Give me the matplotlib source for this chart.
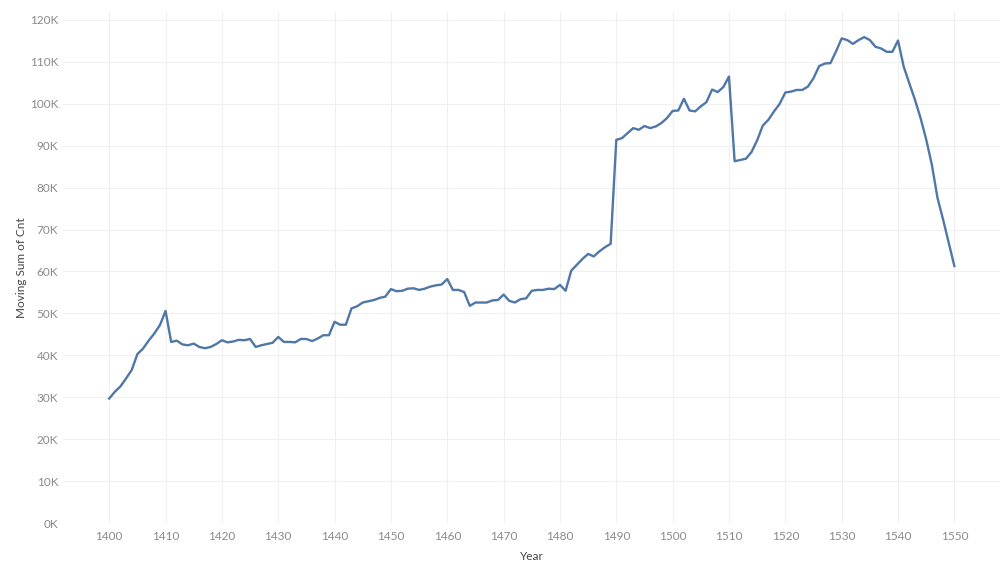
import numpy as np
import matplotlib

matplotlib.use("Agg")
import matplotlib.pyplot as plt
from matplotlib.ticker import FuncFormatter

years = list(range(1400, 1551))

# moving sum of Cnt, in thousands
moving_sum_k = [
    29.7, 31.3, 32.6, 34.5, 36.5, 40.3, 41.6, 43.5, 45.2, 47.2,  # 1400-1409
    50.6, 43.2, 43.5, 42.6, 42.4, 42.8, 42.0, 41.7, 42.0, 42.7,  # 1410-1419
    43.6, 43.1, 43.3, 43.7, 43.6, 43.9, 42.0, 42.4, 42.7, 43.0,  # 1420-1429
    44.4, 43.2, 43.2, 43.1, 43.9, 43.9, 43.4, 44.0, 44.8, 44.8,  # 1430-1439
    48.0, 47.3, 47.3, 51.2, 51.7, 52.6, 52.9, 53.2, 53.7, 54.0,  # 1440-1449
    55.8, 55.3, 55.4, 55.9, 56.0, 55.6, 55.9, 56.4, 56.7, 56.9,  # 1450-1459
    58.2, 55.6, 55.6, 55.1, 51.8, 52.6, 52.6, 52.6, 53.1, 53.2,  # 1460-1469
    54.5, 53.0, 52.6, 53.4, 53.6, 55.4, 55.6, 55.6, 55.9, 55.8,  # 1470-1479
    56.8, 55.4, 60.2, 61.6, 63.0, 64.2, 63.6, 64.8, 65.8, 66.6,  # 1480-1489
    91.4, 91.8, 93.0, 94.2, 93.8, 94.7, 94.2, 94.6, 95.4, 96.6,  # 1490-1499
    98.3, 98.4, 101.2, 98.4, 98.2, 99.4, 100.4, 103.4, 102.8, 104.0,  # 1500-1509
    106.5, 86.3, 86.6, 86.9, 88.5, 91.3, 94.8, 96.2, 98.2, 100.0,  # 1510-1519
    102.7, 102.9, 103.3, 103.3, 104.1, 106.1, 109.0, 109.6, 109.7, 112.5,  # 1520-1529
    115.6, 115.2, 114.3, 115.2, 115.9, 115.2, 113.6, 113.2, 112.4, 112.4,  # 1530-1539
    115.1, 108.9, 104.9, 101.0, 96.6, 91.5, 85.5, 77.6, 72.4, 66.9,  # 1540-1549
    61.3,  # 1550
]
moving_sum = np.array(moving_sum_k) * 1000

x_ticks = list(range(1400, 1551, 10))
y_ticks = list(range(0, 120001, 10000))

plt.rcParams["font.family"] = ["Lato", "DejaVu Sans"]

fig = plt.figure(figsize=(10, 5.71), dpi=100)
ax = fig.add_axes([0.063, 0.084, 0.937, 0.895])

ax.plot(years, moving_sum, color="#4f77a8", lw=1.7, solid_joinstyle="round")

ax.set_xlim(1391.8, 1558.1)
ax.set_ylim(0, 121900)
ax.set_xticks(x_ticks)
ax.set_yticks(y_ticks)
ax.yaxis.set_major_formatter(FuncFormatter(lambda v, p: f"{int(v / 1000)}K"))

ax.grid(True, color="#f0f0f0", lw=0.8)
ax.set_axisbelow(True)
for s in ax.spines.values():
    s.set_visible(False)
ax.tick_params(length=0, labelsize=8.5, labelcolor="#8a8a8a")
ax.tick_params(axis="x", pad=6)
ax.tick_params(axis="y", pad=3.5)

ax.set_xlabel("Year", fontsize=8.5, color="#444444", labelpad=6)
ax.set_ylabel("Moving Sum of Cnt", fontsize=8.5, color="#444444", labelpad=2)

fig.savefig("out.png", dpi=100)
